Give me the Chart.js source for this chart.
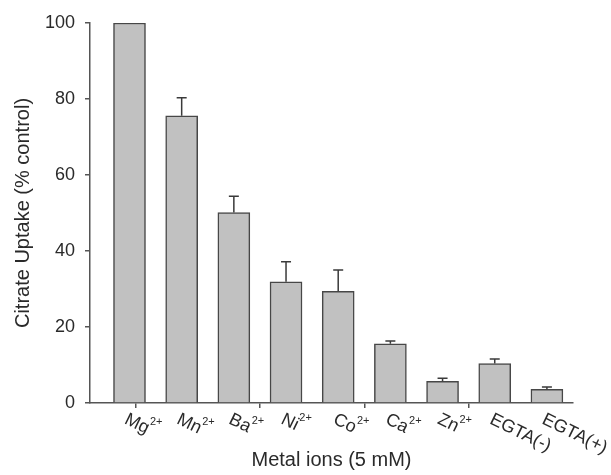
<!DOCTYPE html>
<html>
<head>
<meta charset="utf-8">
<script src="https://cdn.jsdelivr.net/npm/chart.js@4"></script>
<style>
  html, body { margin: 0; padding: 0; background: #fff; }
  #wrap { width: 611px; height: 475px; position: relative; }
</style>
</head>
<body>
<div id="wrap"><canvas id="uptakeChart"></canvas></div>
<script>
// Citrate uptake with 5 mM metal ions, % of control
const ions = ['Mg', 'Mn', 'Ba', 'Ni', 'Co', 'Ca', 'Zn', 'EGTA(-)', 'EGTA(+)'];
const charges = ['2+', '2+', '2+', '2+', '2+', '2+', '2+', '', ''];
const uptake = [100, 75.6, 50.1, 31.9, 29.4, 15.6, 5.7, 10.4, 3.6];
const uptakeErr = [0, 4.7, 4.3, 5.3, 5.6, 0.7, 0.8, 1.2, 0.6];
const yTicks = [0, 20, 40, 60, 80, 100];

const axisColor = '#555';
const textColor = '#2a2a2a';
const fontFamily = "'Liberation Sans', Arial, sans-serif";
const tilt = 26 * Math.PI / 180;

// upward error bars with a small cap
const errorBars = {
    id: 'errorBars',
    afterDatasetsDraw(chart) {
        const { ctx, scales: { x, y } } = chart;
        ctx.save();
        ctx.strokeStyle = '#3a3a3a';
        ctx.lineWidth = 1.5;
        uptake.forEach((v, i) => {
            if (!uptakeErr[i]) return;
            const px = x.getPixelForValue(i);
            const top = y.getPixelForValue(v + uptakeErr[i]);
            const base = y.getPixelForValue(v);
            ctx.beginPath();
            ctx.moveTo(px, base);
            ctx.lineTo(px, top);
            ctx.moveTo(px - 5, top);
            ctx.lineTo(px + 5, top);
            ctx.stroke();
        });
        ctx.restore();
    }
};

// slanted category labels with superscript charge
const ionLabels = {
    id: 'ionLabels',
    afterDraw(chart) {
        const { ctx, scales: { x, y } } = chart;
        const base = y.getPixelForValue(0);
        ctx.save();
        ctx.fillStyle = textColor;
        ctx.textBaseline = 'alphabetic';
        ions.forEach((name, i) => {
            const px = x.getPixelForValue(i) - 6;
            ctx.save();
            ctx.translate(px, base + 20);
            ctx.rotate(tilt);
            ctx.font = '18px ' + fontFamily;
            ctx.fillText(name, 0, 0);
            if (charges[i]) {
                const w = ctx.measureText(name).width;
                ctx.rotate(-tilt);
                ctx.font = '11px ' + fontFamily;
                ctx.fillText(charges[i], w * Math.cos(tilt) + 4, w * Math.sin(tilt) - 9);
            }
            ctx.restore();
        });
        ctx.restore();
    }
};

new Chart(document.getElementById('uptakeChart'), {
    type: 'bar',
    data: {
        datasets: [{
            data: uptake.map((v, i) => ({ x: i, y: v })),
            backgroundColor: '#c1c1c1',
            borderColor: '#474747',
            borderWidth: 1.5,
            barThickness: 32
        }]
    },
    options: {
        responsive: true,
        maintainAspectRatio: false,
        animation: false,
        layout: { padding: { top: 23, right: 38, left: 0, bottom: 0 } },
        plugins: { legend: { display: false }, tooltip: { enabled: false } },
        scales: {
            x: {
                type: 'linear',
                min: -0.757,
                max: 8.5,
                offset: false,
                grid: {
                    drawOnChartArea: false,
                    drawTicks: true,
                    tickLength: 5,
                    lineWidth: 1.5,
                    color: ctx => (ctx.tick && Number.isInteger(ctx.tick.value) && ctx.tick.value % 2 === 1) ? axisColor : 'rgba(0,0,0,0)'
                },
                border: { display: true, color: axisColor, width: 1.5 },
                ticks: { display: false, stepSize: 1 },
                title: {
                    display: true,
                    text: 'Metal ions (5 mM)',
                    color: textColor,
                    font: { family: fontFamily, size: 20 },
                    padding: { top: 40, bottom: 3 }
                }
            },
            y: {
                min: 0,
                max: 100,
                afterBuildTicks: s => { s.ticks = yTicks.map(v => ({ value: v })); },
                afterFit: s => { s.width = 90; },
                grid: {
                    drawOnChartArea: false,
                    drawTicks: true,
                    tickLength: 5,
                    lineWidth: 1.5,
                    color: axisColor
                },
                border: { display: true, color: axisColor, width: 1.5 },
                ticks: {
                    color: textColor,
                    padding: 10,
                    font: { family: fontFamily, size: 18 }
                },
                title: {
                    display: true,
                    text: 'Citrate Uptake (% control)',
                    color: textColor,
                    font: { family: fontFamily, size: 20 },
                    padding: { top: 11, bottom: 0 }
                }
            }
        }
    },
    plugins: [errorBars, ionLabels]
});
</script>
</body>
</html>
